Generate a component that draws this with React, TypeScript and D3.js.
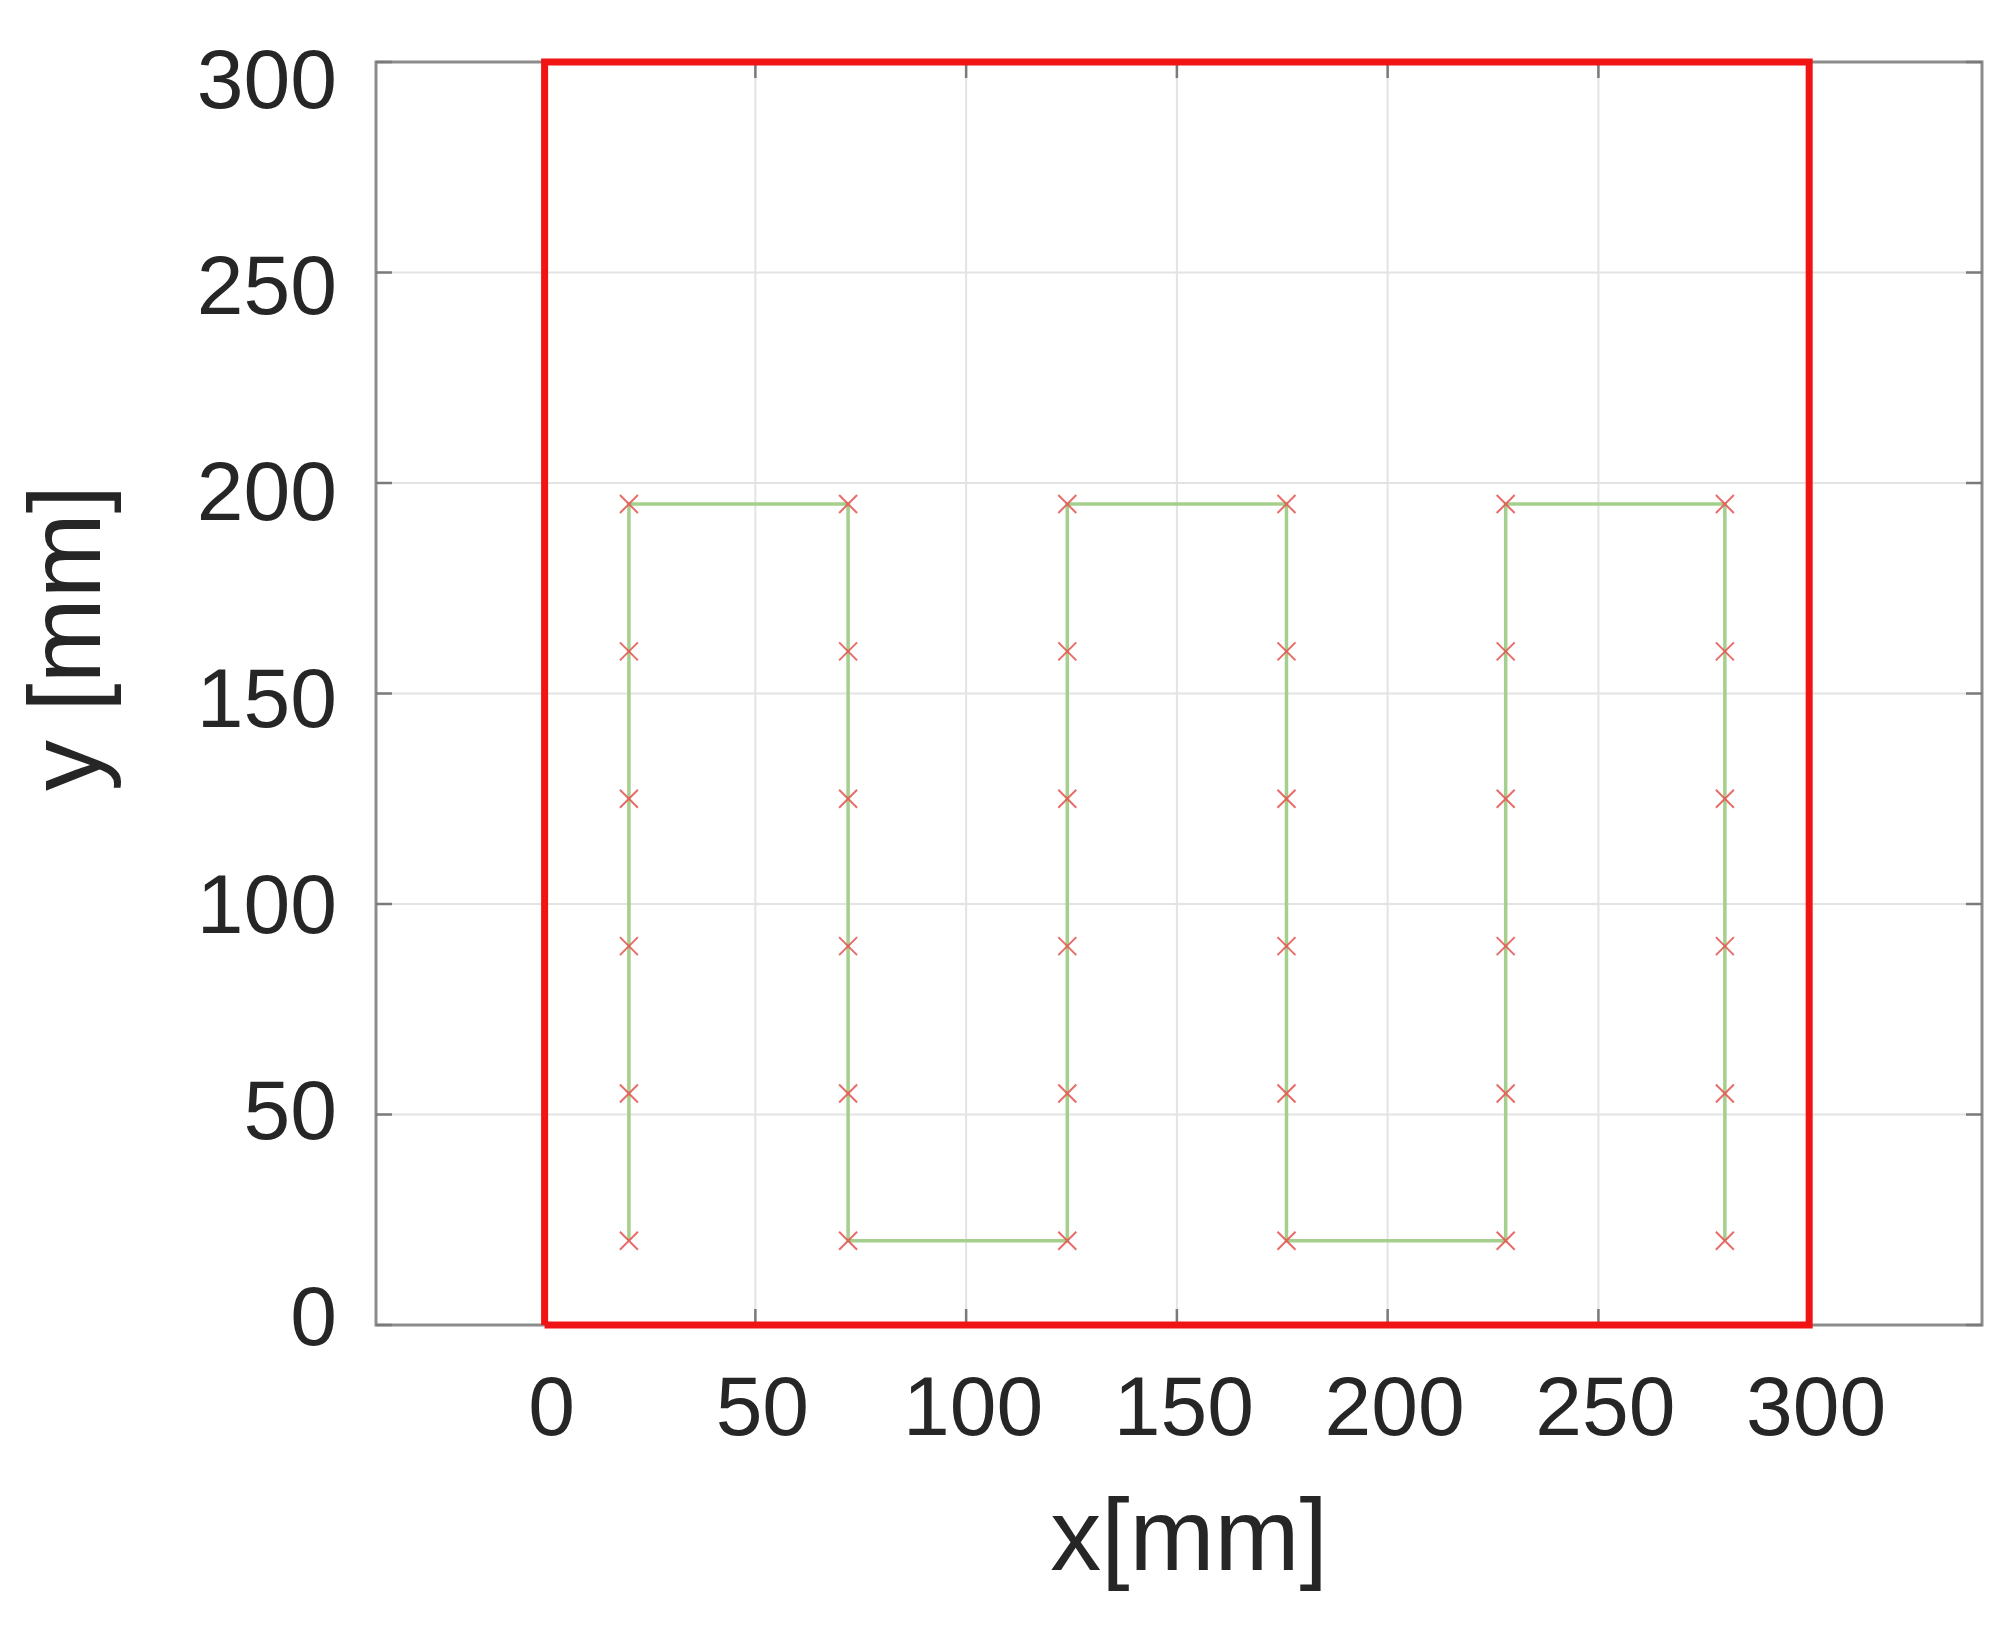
import React, { useRef, useEffect } from 'react';
import * as d3 from 'd3';

// tick values on both axes
const xTicks = [0, 50, 100, 150, 200, 250, 300];
const yTicks = [0, 50, 100, 150, 200, 250, 300];

// workspace boundary (red square)
const boundaryX = [0, 300, 300, 0, 0];
const boundaryY = [0, 0, 300, 300, 0];

// measurement points in the order the path visits them
const pathX = [
  20, 20, 20, 20, 20, 20,
  72, 72, 72, 72, 72, 72,
  124, 124, 124, 124, 124, 124,
  176, 176, 176, 176, 176, 176,
  228, 228, 228, 228, 228, 228,
  280, 280, 280, 280, 280, 280,
];
const pathY = [
  20, 55, 90, 125, 160, 195,
  195, 160, 125, 90, 55, 20,
  20, 55, 90, 125, 160, 195,
  195, 160, 125, 90, 55, 20,
  20, 55, 90, 125, 160, 195,
  195, 160, 125, 90, 55, 20,
];

const W = 2016;
const H = 1631;
const FONT = '"Liberation Sans", Arial, Helvetica, sans-serif';

const App = () => {
  const svgRef = useRef(null);

  useEffect(() => {
    document.body.style.margin = '0';
    const svg = d3.select(svgRef.current);
    svg.selectAll('*').remove();

    const left = 376, right = 1982, top = 62, bottom = 1325;

    const x = d3.scaleLinear().domain([-40, 341]).range([left, right]);
    const y = d3.scaleLinear().domain([0, 300]).range([bottom, top]);
    // tick labels sit on a slightly compressed scale in the original
    const yLab = d3.scaleLinear().domain([0, 300]).range([1345, 108]);

    // background
    svg.append('rect')
      .attr('x', left).attr('y', top)
      .attr('width', right - left).attr('height', bottom - top)
      .attr('fill', '#fff');

    // grid
    const grid = svg.append('g');
    grid.selectAll('.vgrid')
      .data(xTicks)
      .enter()
      .append('line')
      .attr('x1', d => x(d)).attr('x2', d => x(d))
      .attr('y1', top).attr('y2', bottom)
      .attr('stroke', '#e3e3e3')
      .attr('stroke-width', 2);
    grid.selectAll('.hgrid')
      .data(yTicks)
      .enter()
      .append('line')
      .attr('x1', left).attr('x2', right)
      .attr('y1', d => y(d)).attr('y2', d => y(d))
      .attr('stroke', '#e3e3e3')
      .attr('stroke-width', 2);

    // axes box
    svg.append('rect')
      .attr('x', left).attr('y', top)
      .attr('width', right - left).attr('height', bottom - top)
      .attr('fill', 'none')
      .attr('stroke', '#8c8c8c')
      .attr('stroke-width', 3);

    // tick marks (inward, on all four sides)
    const tl = 16;
    const ticks = svg.append('g').attr('stroke', '#7a7a7a').attr('stroke-width', 2.5);
    xTicks.forEach(d => {
      ticks.append('line').attr('x1', x(d)).attr('x2', x(d)).attr('y1', bottom).attr('y2', bottom - tl);
      ticks.append('line').attr('x1', x(d)).attr('x2', x(d)).attr('y1', top).attr('y2', top + tl);
    });
    yTicks.forEach(d => {
      ticks.append('line').attr('x1', left).attr('x2', left + tl).attr('y1', y(d)).attr('y2', y(d));
      ticks.append('line').attr('x1', right).attr('x2', right - tl).attr('y1', y(d)).attr('y2', y(d));
    });

    // path through measurement points
    const pts = pathX.map((px, i) => [px, pathY[i]]);
    const line = d3.line().x(d => x(d[0])).y(d => y(d[1]));
    svg.append('path')
      .datum(pts)
      .attr('d', line)
      .attr('fill', 'none')
      .attr('stroke', '#a5cf8c')
      .attr('stroke-width', 3.5);

    // 'x' markers
    const ms = 9;
    const markers = svg.append('g')
      .attr('stroke', '#e5534f')
      .attr('stroke-width', 2)
      .attr('opacity', 0.85);
    pts.forEach(d => {
      const cx = x(d[0]), cy = y(d[1]);
      markers.append('path')
        .attr('d', `M${cx - ms},${cy - ms}L${cx + ms},${cy + ms}M${cx - ms},${cy + ms}L${cx + ms},${cy - ms}`);
    });

    // workspace boundary
    const bpts = boundaryX.map((bx, i) => [bx, boundaryY[i]]);
    svg.append('path')
      .datum(bpts)
      .attr('d', line)
      .attr('fill', 'none')
      .attr('stroke', '#f01414')
      .attr('stroke-width', 7)
      .attr('stroke-linejoin', 'miter');

    // tick labels
    svg.append('g')
      .selectAll('text')
      .data(xTicks)
      .enter()
      .append('text')
      .attr('x', d => x(d) + 7)
      .attr('y', bottom + 110)
      .attr('text-anchor', 'middle')
      .attr('font-family', FONT)
      .attr('font-size', 84)
      .attr('fill', '#262626')
      .text(d => d);

    svg.append('g')
      .selectAll('text')
      .data(yTicks)
      .enter()
      .append('text')
      .attr('x', 337)
      .attr('y', d => yLab(d))
      .attr('text-anchor', 'end')
      .attr('font-family', FONT)
      .attr('font-size', 84)
      .attr('fill', '#262626')
      .text(d => d);

    // axis labels
    svg.append('text')
      .attr('x', 1189)
      .attr('y', 1570)
      .attr('text-anchor', 'middle')
      .attr('font-family', FONT)
      .attr('font-size', 102)
      .attr('fill', '#262626')
      .text('x[mm]');

    svg.append('text')
      .attr('transform', 'translate(100, 638) rotate(-90)')
      .attr('text-anchor', 'middle')
      .attr('font-family', FONT)
      .attr('font-size', 102)
      .attr('fill', '#262626')
      .text('y [mm]');
  }, []);

  return (
    <svg ref={svgRef} width={W} height={H} style={{ display: 'block', background: '#fff' }}></svg>
  );
};

export default App;
